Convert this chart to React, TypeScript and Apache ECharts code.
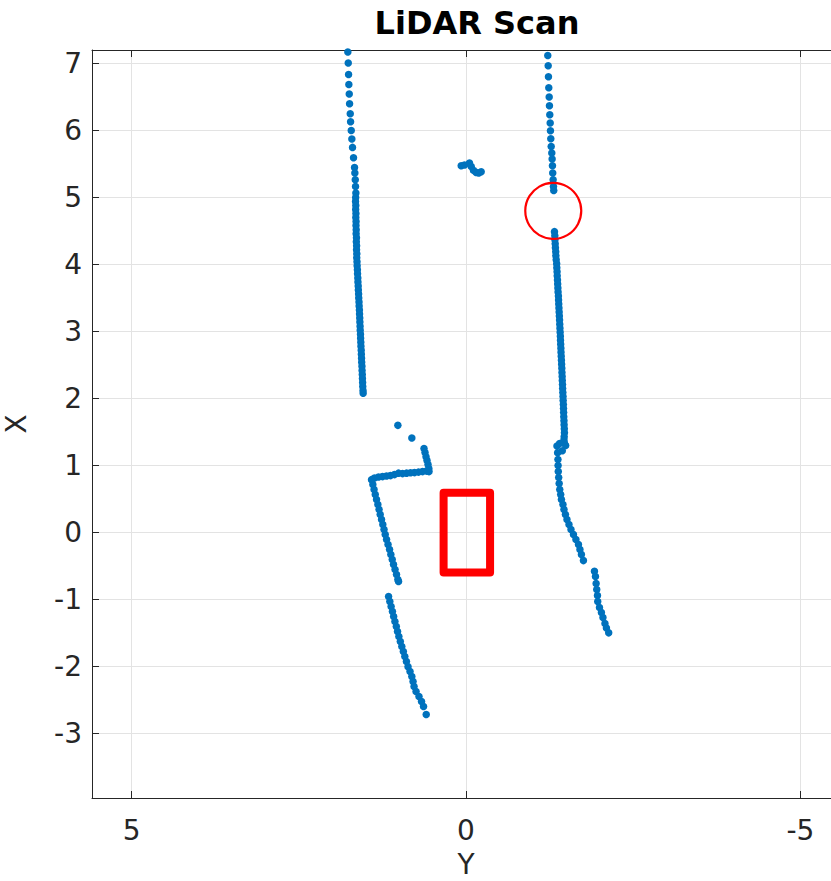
import React, { useEffect, useRef } from 'react';
import * as echarts from 'echarts';

const chartTitle = 'LiDAR Scan';
const horizontalAxisName = 'Y';
const verticalAxisName = 'X';
const horizontalRange = [-5.593, 5.593];
const verticalRange = [-3.96, 7.2];

// [Y, X] points in metres
const leftWallUpper: number[][] = [
  [1.767, 7.169], [1.761, 7.005], [1.756, 6.835], [1.752, 6.686], [1.746, 6.543], [1.741, 6.398],
  [1.731, 6.249], [1.726, 6.13], [1.716, 6.0], [1.707, 5.872], [1.697, 5.747], [1.682, 5.593],
  [1.667, 5.448], [1.662, 5.365], [1.656, 5.265], [1.652, 5.165], [1.647, 5.066],
  [1.65, 5.0], [1.652, 4.94], [1.648, 4.88], [1.65, 4.82], [1.646, 4.76], [1.648, 4.7], [1.644, 4.64],
  [1.645, 4.58], [1.642, 4.52], [1.643, 4.46], [1.638, 4.4], [1.64, 4.34], [1.636, 4.28], [1.637, 4.22],
  [1.633, 4.16], [1.634, 4.1], [1.63, 4.04], [1.628, 3.98], [1.624, 3.92], [1.622, 3.86], [1.618, 3.8],
  [1.616, 3.74], [1.612, 3.68], [1.61, 3.62], [1.606, 3.56], [1.604, 3.5], [1.6, 3.44], [1.598, 3.38],
  [1.594, 3.32], [1.592, 3.26], [1.589, 3.2], [1.587, 3.14], [1.584, 3.08], [1.582, 3.02], [1.578, 2.96],
  [1.576, 2.9], [1.573, 2.84], [1.571, 2.78], [1.567, 2.72], [1.565, 2.66], [1.562, 2.6], [1.56, 2.54],
  [1.556, 2.48], [1.554, 2.42], [1.551, 2.36], [1.549, 2.3], [1.546, 2.24], [1.544, 2.18], [1.54, 2.12],
  [1.538, 2.08],
];

const rightWallUpper: number[][] = [
  [-1.223, 7.119], [-1.229, 6.965], [-1.233, 6.801], [-1.238, 6.637], [-1.244, 6.498], [-1.248, 6.368],
  [-1.253, 6.234], [-1.259, 6.11], [-1.263, 5.995], [-1.268, 5.876], [-1.274, 5.761], [-1.283, 5.663],
  [-1.288, 5.573], [-1.293, 5.473], [-1.297, 5.365], [-1.303, 5.265], [-1.308, 5.165], [-1.312, 5.105],
];

const rightWallMiddle: number[][] = [
  [-1.323, 4.49], [-1.328, 4.43], [-1.33, 4.37], [-1.334, 4.31], [-1.337, 4.25], [-1.342, 4.19],
  [-1.344, 4.13], [-1.349, 4.07], [-1.356, 4.01], [-1.358, 3.95], [-1.362, 3.89], [-1.364, 3.83],
  [-1.368, 3.77], [-1.371, 3.71], [-1.374, 3.65], [-1.377, 3.59], [-1.382, 3.53], [-1.384, 3.47],
  [-1.387, 3.41], [-1.39, 3.35], [-1.393, 3.29], [-1.396, 3.23], [-1.399, 3.17], [-1.402, 3.11],
  [-1.405, 3.05], [-1.408, 2.99], [-1.411, 2.93], [-1.413, 2.87], [-1.416, 2.81], [-1.419, 2.75],
  [-1.421, 2.69], [-1.424, 2.63], [-1.427, 2.57], [-1.43, 2.51], [-1.433, 2.45], [-1.435, 2.39],
  [-1.438, 2.33], [-1.44, 2.27], [-1.443, 2.21], [-1.445, 2.15], [-1.448, 2.09], [-1.451, 2.03],
  [-1.453, 1.97], [-1.456, 1.91], [-1.458, 1.85], [-1.46, 1.79], [-1.462, 1.73], [-1.465, 1.67],
  [-1.467, 1.61], [-1.47, 1.55], [-1.472, 1.49], [-1.468, 1.43], [-1.465, 1.38],
  [-1.47, 1.34], [-1.4, 1.33], [-1.36, 1.29], [-1.49, 1.3], [-1.44, 1.22], [-1.37, 1.19],
];

const rightWallLower: number[][] = [
  [-1.375, 1.089], [-1.377, 0.999], [-1.38, 0.91], [-1.386, 0.82], [-1.393, 0.731], [-1.402, 0.641],
  [-1.416, 0.567], [-1.427, 0.492], [-1.45, 0.418], [-1.465, 0.343], [-1.487, 0.268], [-1.51, 0.194],
  [-1.54, 0.119], [-1.57, 0.045], [-1.607, -0.03], [-1.644, -0.104], [-1.682, -0.179], [-1.704, -0.254],
  [-1.726, -0.328], [-1.756, -0.418],
  [-1.921, -0.577], [-1.936, -0.656], [-1.946, -0.761], [-1.955, -0.85], [-1.966, -0.94], [-1.97, -1.029],
  [-1.996, -1.119], [-2.025, -1.193], [-2.048, -1.268], [-2.078, -1.357], [-2.1, -1.424], [-2.134, -1.496],
];

const obstacleBlob: number[][] = [
  [0.072, 5.474], [0.022, 5.484], [-0.052, 5.514], [-0.078, 5.463], [-0.112, 5.404], [-0.152, 5.374],
  [-0.191, 5.365], [-0.227, 5.384],
];

const leftCorner: number[][] = [
  [1.019, 1.6], [0.81, 1.412],
  [0.628, 1.253], [0.613, 1.193], [0.598, 1.133], [0.583, 1.074], [0.568, 1.014], [0.556, 0.955], [0.553, 0.91],
  [0.59, 0.917], [0.65, 0.91], [0.71, 0.902], [0.77, 0.895], [0.829, 0.892], [0.889, 0.887], [0.949, 0.88],
  [1.009, 0.887], [1.069, 0.865], [1.129, 0.85], [1.188, 0.843], [1.248, 0.835], [1.308, 0.828],
  [1.368, 0.813], [1.413, 0.79],
  [1.393, 0.716], [1.375, 0.641], [1.357, 0.567], [1.338, 0.492], [1.318, 0.418], [1.3, 0.343],
  [1.283, 0.268], [1.263, 0.194], [1.244, 0.119], [1.226, 0.045], [1.208, -0.03], [1.188, -0.104],
  [1.166, -0.179], [1.143, -0.254], [1.124, -0.328], [1.103, -0.403], [1.084, -0.477], [1.061, -0.552],
  [1.039, -0.626], [1.019, -0.701], [1.009, -0.731],
];

const leftWallLower: number[][] = [
  [1.158, -0.954], [1.139, -1.029], [1.12, -1.104], [1.1, -1.178], [1.082, -1.253], [1.063, -1.327],
  [1.042, -1.402], [1.024, -1.477], [1.004, -1.551], [0.982, -1.626], [0.96, -1.7], [0.937, -1.775],
  [0.915, -1.849], [0.891, -1.924], [0.867, -2.0], [0.837, -2.073], [0.81, -2.148], [0.792, -2.222],
  [0.777, -2.297], [0.747, -2.371], [0.703, -2.446], [0.665, -2.521], [0.635, -2.595], [0.595, -2.714],
];

const vehicleOutline: number[][] = [
  [0.335, 0], [0.335, 0.595], [-0.36, 0.595], [-0.36, -0.595], [0.335, -0.595], [0.335, 0],
];

const gapMarker: number[][] = [[-1.305, 4.8]];

const AXIS_COLOR = '#262626';
const GRID_COLOR = '#e3e3e3';
const FONT = 'DejaVu Sans';

const fmt = (v: number) => (Math.abs(v - Math.round(v)) < 1e-6 ? String(Math.round(v)) : '');

export default function App() {
  const ref = useRef<HTMLDivElement>(null);
  useEffect(() => {
    if (!ref.current) return;
    const chart = echarts.init(ref.current, undefined, { renderer: 'svg', width: 851, height: 881 });
    const scanPoints = [
      ...leftWallUpper, ...rightWallUpper, ...rightWallMiddle, ...rightWallLower,
      ...obstacleBlob, ...leftCorner, ...leftWallLower,
    ];
    const baseX = {
      type: 'value',
      inverse: true,
      min: horizontalRange[0],
      max: horizontalRange[1],
      splitNumber: 2,
    };
    chart.setOption({
      animation: false,
      backgroundColor: '#ffffff',
      textStyle: { fontFamily: FONT },
      grid: { left: 92, right: 11, top: 50, bottom: 83, containLabel: false, outerBoundsMode: 'none' },
      graphic: [
        {
          type: 'text',
          x: 477,
          y: 23,
          style: {
            text: chartTitle,
            fontFamily: FONT,
            fontWeight: 'bold',
            fontSize: 32,
            fill: '#000000',
            textAlign: 'center',
            textVerticalAlign: 'middle',
          },
        },
      ],
      xAxis: [
        {
          ...baseX,
          position: 'bottom',
          name: horizontalAxisName,
          nameLocation: 'middle',
          nameGap: 52,
          nameTextStyle: { fontFamily: FONT, fontSize: 28, color: AXIS_COLOR },
          axisLine: { show: true, onZero: false, lineStyle: { color: AXIS_COLOR, width: 1 } },
          axisTick: { show: true, inside: true, length: 7, lineStyle: { color: AXIS_COLOR } },
          axisLabel: { formatter: fmt, fontFamily: FONT, fontSize: 28, color: AXIS_COLOR, margin: 18, showMinLabel: false, showMaxLabel: false },
          splitLine: { show: true, showMinLine: false, showMaxLine: false, lineStyle: { color: GRID_COLOR, width: 1 } },
        },
        {
          ...baseX,
          position: 'top',
          axisLine: { show: true, onZero: false, lineStyle: { color: AXIS_COLOR, width: 1 } },
          axisTick: { show: true, inside: true, length: 7, lineStyle: { color: AXIS_COLOR } },
          axisLabel: { show: false },
          splitLine: { show: false },
        },
      ],
      yAxis: [
        {
          type: 'value',
          min: verticalRange[0],
          max: verticalRange[1],
          splitNumber: 11,
          position: 'left',
          name: verticalAxisName,
          nameLocation: 'middle',
          nameGap: 62,
          nameRotate: 90,
          nameTextStyle: { fontFamily: FONT, fontSize: 28, color: AXIS_COLOR },
          axisLine: { show: true, onZero: false, lineStyle: { color: AXIS_COLOR, width: 1 } },
          axisTick: { show: true, inside: true, length: 7, lineStyle: { color: AXIS_COLOR } },
          axisLabel: { formatter: fmt, fontFamily: FONT, fontSize: 28, color: AXIS_COLOR, margin: 10, showMinLabel: false, showMaxLabel: false },
          splitLine: { show: true, showMinLine: false, showMaxLine: false, lineStyle: { color: GRID_COLOR, width: 1 } },
        },
      ],
      series: [
        {
          type: 'scatter',
          data: scanPoints,
          symbol: 'circle',
          symbolSize: 7.5,
          itemStyle: { color: '#0072BD', opacity: 1 },
          z: 3,
        },
        {
          type: 'line',
          data: vehicleOutline,
          symbol: 'none',
          lineStyle: { color: '#ff0000', width: 8, join: 'round', cap: 'round', opacity: 1 },
          z: 4,
        },
        {
          type: 'scatter',
          data: gapMarker,
          symbol: 'circle',
          symbolSize: 56,
          itemStyle: { color: 'rgba(0,0,0,0)', borderColor: '#ff0000', borderWidth: 2.2, opacity: 1 },
          z: 5,
        },
      ],
    });
    return () => chart.dispose();
  }, []);
  return (
    <div style={{ position: 'absolute', left: 0, top: 0, width: 831, height: 881, overflow: 'hidden' }}>
      <div ref={ref} style={{ width: 851, height: 881 }} />
    </div>
  );
}
